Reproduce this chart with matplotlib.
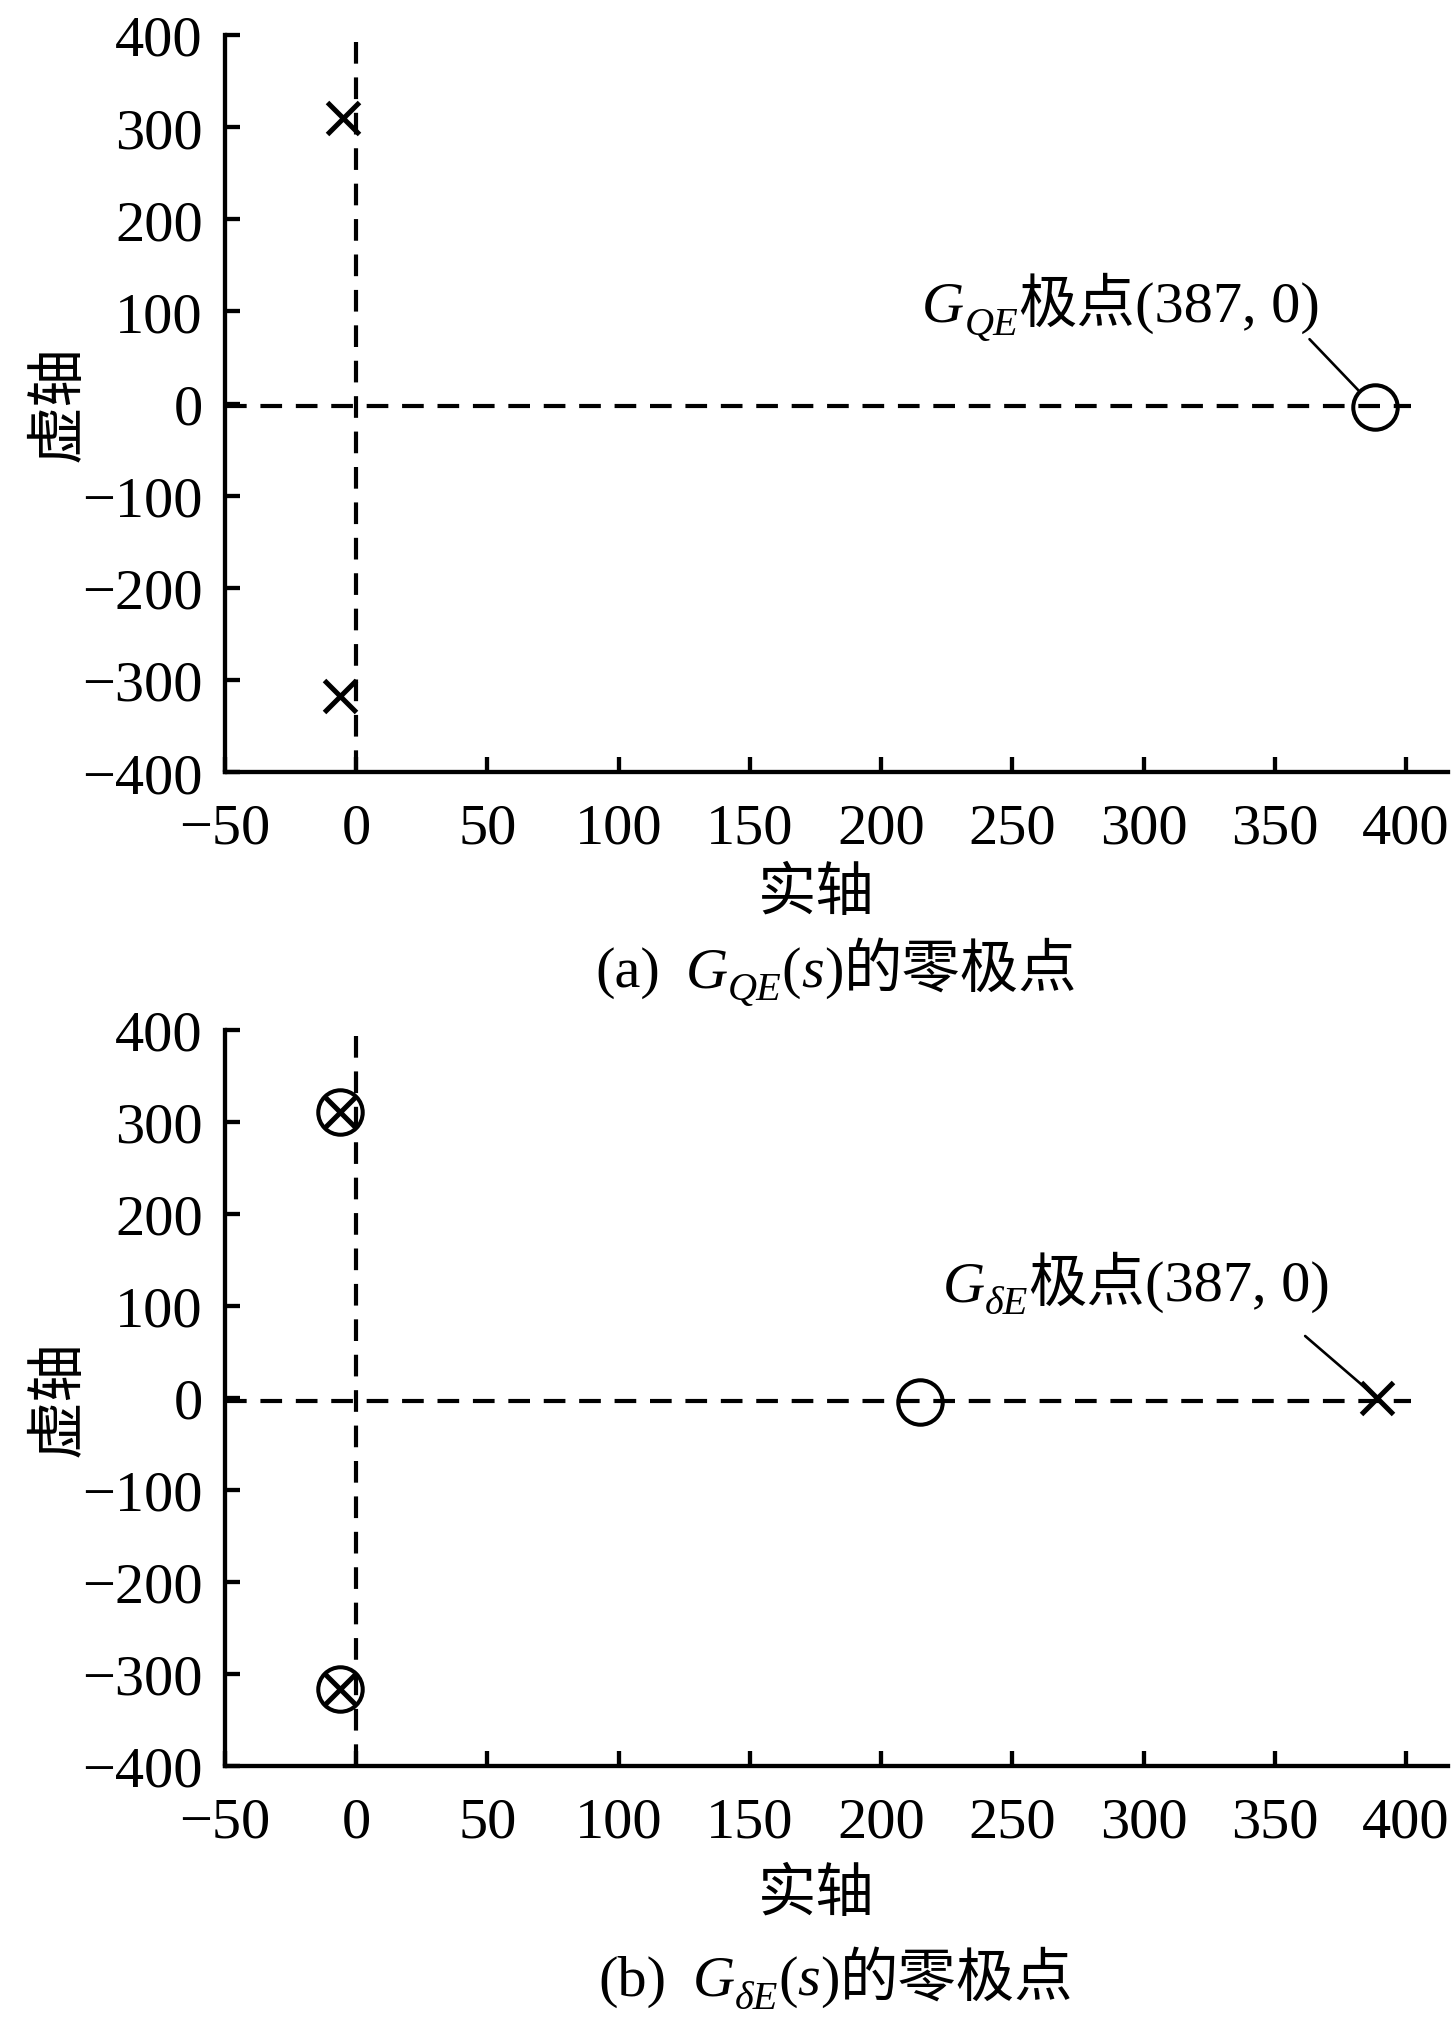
import matplotlib
matplotlib.use('Agg')
import matplotlib.pyplot as plt

W, H = 1451, 2031
DPI = 100
SERIF = 'Liberation Serif'
CJK = 'Noto Sans CJK SC'
FS = 42

plt.rcParams['font.family'] = [SERIF, CJK]
plt.rcParams['axes.unicode_minus'] = True

# ---------------- data ----------------
x_ticks = [-50, 0, 50, 100, 150, 200, 250, 300, 350, 400]
y_ticks = [-400, -300, -200, -100, 0, 100, 200, 300, 400]
x_lim = (-50, 416)
y_lim = (-400, 400)

# (a) G_QE(s)
a_pole_re = [-5, -6]
a_pole_im = [310, -318]
a_zero_re = [388]
a_zero_im = [-4]

# (b) G_deltaE(s)
b_pole_re = [-6, -6, 389]
b_pole_im = [311, -316, 0]
b_zero_re = [-6, -6, 215]
b_zero_im = [311, -316, -4]

axis_label_x = '实轴'
axis_label_y = '虚轴'

fig = plt.figure(figsize=(W / DPI, H / DPI), dpi=DPI)

ax_a = fig.add_axes([225 / W, 1 - 773 / H, (1448 - 225) / W, (773 - 36) / H])
ax_b = fig.add_axes([225 / W, 1 - 1767 / H, (1448 - 225) / W, (1767 - 1031) / H])

DASH = (0, (5.2, 3.3))
LW_AX = 3.1
LW_DASH = 3.0


def setup(ax):
    ax.set_xlim(*x_lim)
    ax.set_ylim(*y_lim)
    ax.set_xticks(x_ticks)
    ax.set_yticks(y_ticks)
    for s in ['top', 'right']:
        ax.spines[s].set_visible(False)
    for s in ['left', 'bottom']:
        ax.spines[s].set_linewidth(LW_AX)
    ax.tick_params(axis='both', direction='in', length=11, width=LW_AX,
                   labelsize=FS)
    ax.tick_params(axis='x', pad=22)
    ax.tick_params(axis='y', pad=16)
    for lab in ax.get_xticklabels() + ax.get_yticklabels():
        lab.set_family(SERIF)
    # dashed reference axes
    ax.plot([x_lim[0], 402], [-3, -3], ls=DASH, lw=LW_DASH, color='k', zorder=1)
    ax.plot([0, 0], [y_lim[0], y_lim[1]], ls=DASH, lw=LW_DASH, color='k', zorder=1)


setup(ax_a)
setup(ax_b)

MEW = 2.9
# markers
ax_a.plot(a_pole_re, a_pole_im, ls='none', marker='x', ms=23, mew=3.6,
          color='k', clip_on=False, zorder=3)
ax_a.plot(a_zero_re, a_zero_im, ls='none', marker='o', ms=32, mew=MEW,
          mfc='none', mec='k', clip_on=False, zorder=3)
ax_b.plot(b_pole_re, b_pole_im, ls='none', marker='x', ms=23, mew=3.6,
          color='k', clip_on=False, zorder=3)
ax_b.plot(b_zero_re, b_zero_im, ls='none', marker='o', ms=32, mew=MEW,
          mfc='none', mec='k', clip_on=False, zorder=3)

# annotation leader lines (offsets in pixels)
ax_a.annotate('', xy=(a_zero_re[0], a_zero_im[0]), xytext=(-65, 68),
              textcoords='offset pixels',
              arrowprops=dict(arrowstyle='-', lw=1.9, color='k',
                              shrinkA=0, shrinkB=17))
ax_b.annotate('', xy=(b_pole_re[2], b_pole_im[2]), xytext=(-72, 62),
              textcoords='offset pixels',
              arrowprops=dict(arrowstyle='-', lw=1.9, color='k',
                              shrinkA=0, shrinkB=2))

# axis labels
fig.text(816 / W, 1 - 894 / H, axis_label_x, family=CJK, fontsize=FS,
         ha='center', va='center')
fig.text(816 / W, 1 - 1895 / H, axis_label_x, family=CJK, fontsize=FS,
         ha='center', va='center')
fig.text(58 / W, 1 - 404 / H, axis_label_y, family=CJK, fontsize=FS,
         ha='center', va='center', rotation=90)
fig.text(58 / W, 1 - 1399 / H, axis_label_y, family=CJK, fontsize=FS,
         ha='center', va='center', rotation=90)

renderer = fig.canvas.get_renderer()


def rich(cx, base_y, segs):
    """segs: (text, family, style, size, dy_px_down, gap_px_after)"""
    objs = []
    total = 0
    for s, fam, style, size, dy, gap in segs:
        t = fig.text(0, 0, s, family=fam, style=style, fontsize=size,
                     va='baseline', ha='left')
        w = t.get_window_extent(renderer).width
        objs.append((t, w, dy, gap))
        total += w + gap
    x = cx - total / 2
    for t, w, dy, gap in objs:
        t.set_position((x / W, (H - base_y - dy) / H))
        x += w + gap


SUB = 29
SUBDY = 13

# annotations
rich(1121, 322, [
    ('G', SERIF, 'italic', FS, 0, 0),
    ('QE', SERIF, 'italic', SUB, SUBDY, 0),
    ('极点', CJK, 'normal', FS, 0, 0),
    ('(387, 0)', SERIF, 'normal', FS, 0, 0),
])
rich(1136, 1301, [
    ('G', SERIF, 'italic', FS, 0, 0),
    ('δE', SERIF, 'italic', SUB, SUBDY, 0),
    ('极点', CJK, 'normal', FS, 0, 0),
    ('(387, 0)', SERIF, 'normal', FS, 0, 0),
])

# captions
rich(836, 987, [
    ('(a)', SERIF, 'normal', FS, 0, 26),
    ('G', SERIF, 'italic', FS, 0, 0),
    ('QE', SERIF, 'italic', SUB, SUBDY, 0),
    ('(', SERIF, 'normal', FS, 0, 0),
    ('s', SERIF, 'italic', FS, 0, 0),
    (')', SERIF, 'normal', FS, 0, 0),
    ('的零极点', CJK, 'normal', FS, 0, 0),
])
rich(836, 1996, [
    ('(b)', SERIF, 'normal', FS, 0, 26),
    ('G', SERIF, 'italic', FS, 0, 0),
    ('δE', SERIF, 'italic', SUB, SUBDY, 0),
    ('(', SERIF, 'normal', FS, 0, 0),
    ('s', SERIF, 'italic', FS, 0, 0),
    (')', SERIF, 'normal', FS, 0, 0),
    ('的零极点', CJK, 'normal', FS, 0, 0),
])

fig.savefig('out.png', dpi=DPI, facecolor='white')
